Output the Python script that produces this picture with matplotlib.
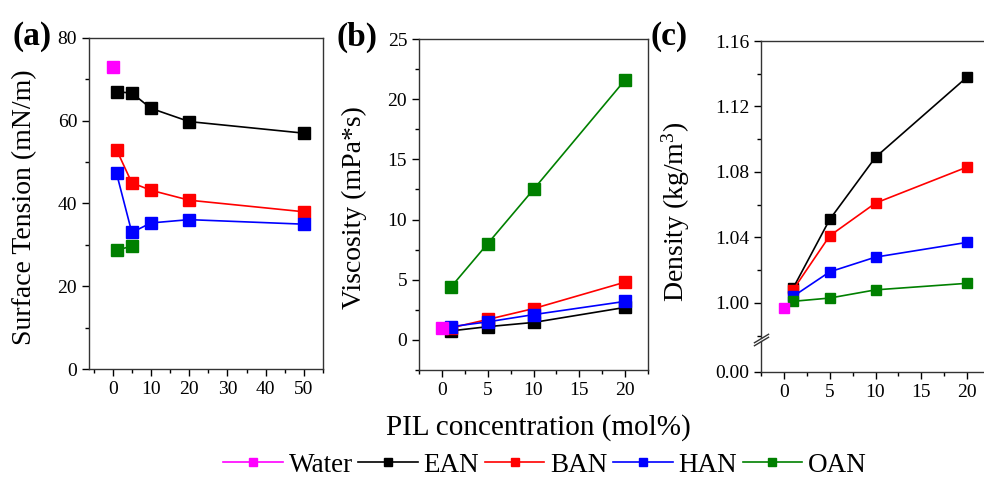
import matplotlib
matplotlib.use("Agg")
import matplotlib.pyplot as plt
from matplotlib.ticker import MultipleLocator, FormatStrFormatter

plt.rcParams['font.family'] = ['Liberation Serif', 'DejaVu Serif']
plt.rcParams['mathtext.fontset'] = 'custom'
plt.rcParams['mathtext.rm'] = 'Liberation Serif'
plt.rcParams['mathtext.it'] = 'Liberation Serif:italic'

# ---- data ----
names = ['Water', 'EAN', 'BAN', 'HAN', 'OAN']
colors = ['#FF00FF', '#000000', '#FF0000', '#0000FF', '#008000']

x_water = [0]
x_conc = [1, 5, 10, 20]
x_conc_a = [1, 5, 10, 20, 50]
x_oan_a = [1, 5]

# (a) surface tension, mN/m
st_water = [73.0]
st_ean = [67.0, 66.7, 63.0, 59.8, 57.0]
st_ban = [53.0, 45.0, 43.2, 40.8, 38.0]
st_han = [47.3, 33.0, 35.3, 36.1, 35.0]
st_oan = [28.7, 29.7]

# (b) viscosity, mPa*s
vis_water = [1.0]
vis_ean = [0.75, 1.1, 1.45, 2.7]
vis_ban = [1.0, 1.7, 2.6, 4.8]
vis_han = [1.1, 1.5, 2.1, 3.2]
vis_oan = [4.4, 8.0, 12.5, 21.6]

# (c) density, kg/m3
den_water = [0.997]
den_ean = [1.009, 1.051, 1.089, 1.138]
den_ban = [1.008, 1.041, 1.061, 1.083]
den_han = [1.004, 1.019, 1.028, 1.037]
den_oan = [1.001, 1.003, 1.008, 1.012]

W, H = 984, 487
fig = plt.figure(figsize=(W / 100, H / 100), dpi=100)


def box(l, t, r, b):
    return [l / W, 1 - b / H, (r - l) / W, (b - t) / H]


def style(ax, fs=14):
    ax.tick_params(which='both', direction='out', labelsize=fs, width=1)
    ax.tick_params(which='major', length=5)
    ax.tick_params(which='minor', length=3)
    for s in ax.spines.values():
        s.set_linewidth(1)
        s.set_color('#333333')


lw = 1.2
lab_fs = 20
tag_fs = 24

# ---------- (a) ----------
ax1 = fig.add_axes(box(89, 38, 323, 369))
ax1.plot(x_conc_a, st_ean, '-s', color=colors[1], lw=lw, ms=8.5)
ax1.plot(x_conc_a, st_ban, '-s', color=colors[2], lw=lw, ms=8.5)
ax1.plot(x_conc_a, st_han, '-s', color=colors[3], lw=lw, ms=8.5)
ax1.plot(x_oan_a, st_oan, '-s', color=colors[4], lw=lw, ms=8.5)
ax1.plot(x_water, st_water, '-s', color=colors[0], lw=lw, ms=8.5)
ax1.set_xlim(-6.2, 55)
ax1.set_ylim(0, 80)
ax1.xaxis.set_major_locator(MultipleLocator(10))
ax1.xaxis.set_minor_locator(MultipleLocator(5))
ax1.yaxis.set_major_locator(MultipleLocator(20))
ax1.yaxis.set_minor_locator(MultipleLocator(10))
style(ax1)
ax1.set_ylabel('Surface Tension (mN/m)', fontsize=lab_fs)
ax1.yaxis.set_label_coords(-0.222, 0.49)
fig.text(13 / W, 1 - 37 / H, '(a)', fontsize=tag_fs, fontweight='bold', va='center')

# ---------- (b) ----------
ax2 = fig.add_axes(box(419, 39, 648, 370))
ax2.plot(x_conc, vis_ean, '-s', color=colors[1], lw=lw, ms=8)
ax2.plot(x_conc, vis_ban, '-s', color=colors[2], lw=lw, ms=8)
ax2.plot(x_conc, vis_han, '-s', color=colors[3], lw=lw, ms=8)
ax2.plot(x_conc, vis_oan, '-s', color=colors[4], lw=lw, ms=8)
ax2.plot(x_water, vis_water, '-s', color=colors[0], lw=lw, ms=8)
ax2.set_xlim(-2.5, 22.5)
ax2.set_ylim(-2.5, 25)
ax2.xaxis.set_major_locator(MultipleLocator(5))
ax2.xaxis.set_minor_locator(MultipleLocator(2.5))
ax2.yaxis.set_major_locator(MultipleLocator(5))
ax2.yaxis.set_minor_locator(MultipleLocator(2.5))
style(ax2)
ax2.set_ylabel('Viscosity (mPa*s)', fontsize=lab_fs)
ax2.yaxis.set_label_coords(-0.227, 0.49)
fig.text(336 / W, 1 - 37 / H, '(b)', fontsize=tag_fs, fontweight='bold', va='center')

# ---------- (c) broken axis ----------
ax3 = fig.add_axes(box(761, 41, 990, 338))
ax3b = fig.add_axes(box(761, 341, 990, 372))
for ax in (ax3, ax3b):
    ax.plot(x_conc, den_ean, '-s', color=colors[1], lw=lw, ms=6.5)
    ax.plot(x_conc, den_ban, '-s', color=colors[2], lw=lw, ms=6.5)
    ax.plot(x_conc, den_han, '-s', color=colors[3], lw=lw, ms=6.5)
    ax.plot(x_conc, den_oan, '-s', color=colors[4], lw=lw, ms=6.5)
    ax.plot(x_water, den_water, '-s', color=colors[0], lw=lw, ms=6.5)
    ax.set_xlim(-2.5, 22.5)
    ax.xaxis.set_major_locator(MultipleLocator(5))
    ax.xaxis.set_minor_locator(MultipleLocator(2.5))
    style(ax)
ax3.set_ylim(0.9786, 1.16)
ax3.yaxis.set_major_locator(MultipleLocator(0.04))
ax3.yaxis.set_minor_locator(MultipleLocator(0.02))
ax3.yaxis.set_major_formatter(FormatStrFormatter('%.2f'))
ax3.spines['bottom'].set_visible(False)
ax3.tick_params(axis='x', which='both', bottom=False, labelbottom=False)
ax3b.set_ylim(0, 0.02)
ax3b.set_yticks([0])
ax3b.yaxis.set_minor_locator(plt.NullLocator())
ax3b.yaxis.set_major_formatter(FormatStrFormatter('%.2f'))
ax3b.spines['top'].set_visible(False)
ax3.set_ylabel('Density (kg/m$^3$)', fontsize=lab_fs)
ax3.yaxis.set_label_coords(-0.301, 0.424)
fig.text(651 / W, 1 - 37 / H, '(c)', fontsize=tag_fs, fontweight='bold', va='center')

# break marks on the left spine
kw = dict(marker=[(-1, -0.6), (1, 0.6)], markersize=11, linestyle='none',
          color='#333333', mec='#333333', mew=1, clip_on=False)
ax3.plot([0], [0], transform=ax3.transAxes, **kw)
ax3b.plot([0], [1], transform=ax3b.transAxes, **kw)

fig.text(538 / W, 1 - 428 / H, 'PIL concentration (mol%)', fontsize=21,
         ha='center', va='center')

handles = ax1.get_lines()
order = [4, 0, 1, 2, 3]
leg = fig.legend([handles[i] for i in order], names, loc='center',
                 bbox_to_anchor=(545 / W, 1 - 465 / H), ncol=5, frameon=False,
                 fontsize=19.5, handlelength=2.2, markerscale=0.7,
                 columnspacing=0.2, handletextpad=0.22, borderpad=0)

fig.savefig('out.png', dpi=100)
